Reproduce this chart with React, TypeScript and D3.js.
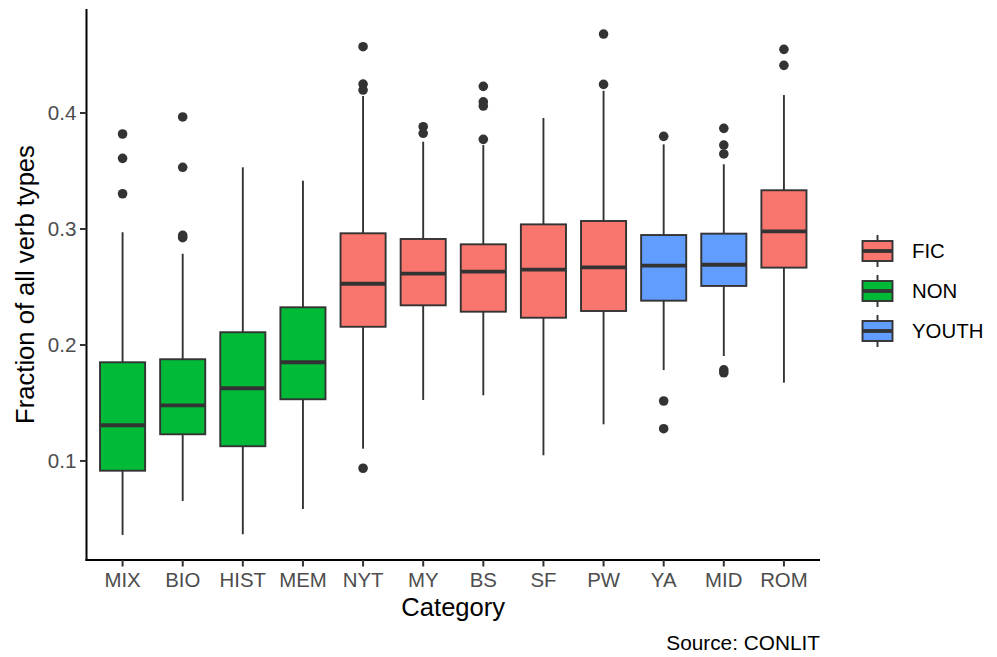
import React from 'react'
import { scaleLinear, scalePoint } from 'd3'

// categories in plot order, with their genre group
const categories = ['MIX', 'BIO', 'HIST', 'MEM', 'NYT', 'MY', 'BS', 'SF', 'PW', 'YA', 'MID', 'ROM']
const groups = ['NON', 'NON', 'NON', 'NON', 'FIC', 'FIC', 'FIC', 'FIC', 'FIC', 'YOUTH', 'YOUTH', 'FIC']

// box stats
const whiskerLo = [0.0362, 0.0655, 0.0368, 0.0586, 0.1106, 0.1526, 0.1566, 0.1049, 0.1316, 0.1784, 0.1905, 0.1675]
const q1 = [0.0916, 0.123, 0.1127, 0.1532, 0.2157, 0.2342, 0.2287, 0.2235, 0.2293, 0.2382, 0.2509, 0.2667]
const medians = [0.1308, 0.148, 0.1627, 0.1851, 0.2528, 0.2615, 0.2632, 0.2649, 0.267, 0.2684, 0.2692, 0.298]
const q3 = [0.1851, 0.1877, 0.211, 0.2325, 0.2963, 0.2914, 0.2868, 0.304, 0.3069, 0.2948, 0.296, 0.3334]
const whiskerHi = [0.2972, 0.2787, 0.3532, 0.3416, 0.4147, 0.3753, 0.3724, 0.3957, 0.4192, 0.373, 0.3558, 0.4155]
const outliers = [
  [0.3819, 0.3609, 0.3304],
  [0.3966, 0.3532, 0.2945, 0.2925],
  [],
  [],
  [0.4572, 0.425, 0.4198, 0.0937],
  [0.3882, 0.3825],
  [0.423, 0.4097, 0.406, 0.3773],
  [],
  [0.4681, 0.4247],
  [0.3799, 0.1517, 0.1278],
  [0.3868, 0.3724, 0.3647, 0.1785, 0.176],
  [0.4549, 0.4411],
]

const legendGroups = ['FIC', 'NON', 'YOUTH']
const groupColors = ['#F8766D', '#00BA38', '#619CFF']
const yTicks = [0.1, 0.2, 0.3, 0.4]

const W = 997
const H = 657
const panel = { left: 86.5, right: 820, top: 9, bottom: 560 }
const font = '"Liberation Sans", Arial, Helvetica, sans-serif'
const lineCol = '#333333'

export default function App() {
  const allVals = [...whiskerLo, ...whiskerHi, ...outliers.flat()]
  const lo = Math.min(...allVals)
  const hi = Math.max(...allVals)
  const pad = (hi - lo) * 0.05

  const y = scaleLinear().domain([lo - pad, hi + pad]).range([panel.bottom, panel.top])
  const x = scalePoint<string>().domain(categories).range([panel.left, panel.right]).padding(0.6)
  const boxW = x.step() * 0.75
  const color = (g: string) => groupColors[legendGroups.indexOf(g)]

  const keySize = 40
  const legendX = 857.5
  const legendY = 231

  return (
    <svg width={W} height={H} style={{ position: 'absolute', left: 0, top: 0, background: '#fff' }} fontFamily={font}>
      {/* boxes */}
      {categories.map((c, i) => {
        const cx = x(c) as number
        return (
          <g key={c}>
            <line x1={cx} x2={cx} y1={y(q3[i])} y2={y(whiskerHi[i])} stroke={lineCol} strokeWidth={1.9} />
            <line x1={cx} x2={cx} y1={y(q1[i])} y2={y(whiskerLo[i])} stroke={lineCol} strokeWidth={1.9} />
            <rect x={cx - boxW / 2} y={y(q3[i])} width={boxW} height={y(q1[i]) - y(q3[i])}
              fill={color(groups[i])} stroke={lineCol} strokeWidth={1.9} />
            <line x1={cx - boxW / 2} x2={cx + boxW / 2} y1={y(medians[i])} y2={y(medians[i])} stroke={lineCol} strokeWidth={3.8} />
            {outliers[i].map((v, j) => (
              <circle key={j} cx={cx} cy={y(v)} r={4.8} fill={lineCol} />
            ))}
          </g>
        )
      })}

      {/* axes */}
      <line x1={panel.left} x2={panel.left} y1={panel.top} y2={panel.bottom + 1} stroke="#000" strokeWidth={2} />
      <line x1={panel.left - 1} x2={panel.right} y1={panel.bottom} y2={panel.bottom} stroke="#000" strokeWidth={2} />
      {yTicks.map((t) => (
        <g key={t}>
          <line x1={panel.left - 6.5} x2={panel.left} y1={y(t)} y2={y(t)} stroke={lineCol} strokeWidth={2} />
          <text x={panel.left - 10} y={y(t)} dy="0.35em" textAnchor="end" fontSize={20.6} fill="#4D4D4D">{t.toFixed(1)}</text>
        </g>
      ))}
      {categories.map((c) => (
        <g key={c}>
          <line x1={x(c)} x2={x(c)} y1={panel.bottom} y2={panel.bottom + 6.5} stroke={lineCol} strokeWidth={2} />
          <text x={x(c)} y={587} textAnchor="middle" fontSize={20.4} fill="#4D4D4D">{c}</text>
        </g>
      ))}

      {/* titles */}
      <text x={(panel.left + panel.right) / 2} y={616} textAnchor="middle" fontSize={25.6} fill="#000">Category</text>
      <text transform={`translate(34,${(panel.top + panel.bottom) / 2}) rotate(-90)`} textAnchor="middle" fontSize={25.6} fill="#000">
        Fraction of all verb types
      </text>
      <text x={panel.right} y={650} textAnchor="end" fontSize={20.8} fill="#000">Source: CONLIT</text>

      {/* legend */}
      {legendGroups.map((g, i) => {
        const ky = legendY + i * keySize
        const kx = legendX
        const mid = kx + keySize / 2
        return (
          <g key={g}>
            <line x1={mid} x2={mid} y1={ky + keySize * 0.1} y2={ky + keySize * 0.9} stroke={lineCol} strokeWidth={1.9} />
            <rect x={kx + keySize * 0.125} y={ky + keySize * 0.25} width={keySize * 0.75} height={keySize * 0.5}
              fill={groupColors[i]} stroke={lineCol} strokeWidth={1.9} />
            <line x1={kx + keySize * 0.125} x2={kx + keySize * 0.875} y1={ky + keySize / 2} y2={ky + keySize / 2}
              stroke={lineCol} strokeWidth={3.8} />
            <text x={912} y={ky + keySize / 2} dy="0.35em" fontSize={20.4} fill="#000">{g}</text>
          </g>
        )
      })}
    </svg>
  )
}
